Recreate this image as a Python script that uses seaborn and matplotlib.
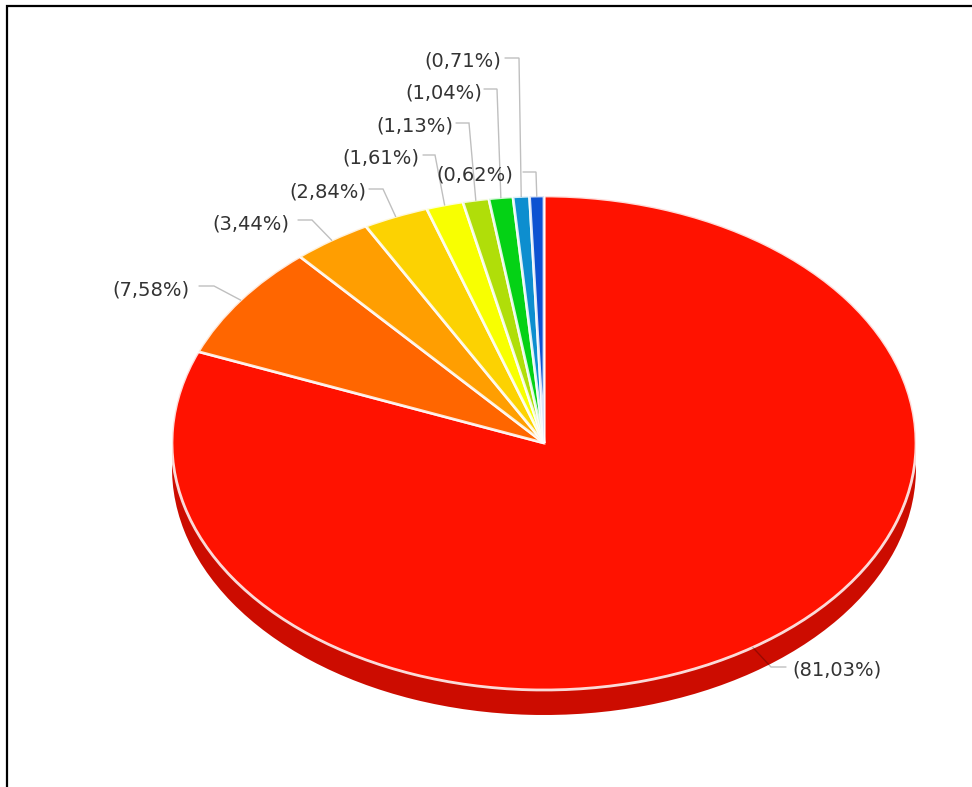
import numpy as np
import seaborn as sns
from matplotlib import pyplot as plt

sns.set_theme(style="white")
plt.rcParams["font.family"] = ["DejaVu Sans"]

shares = [81.03, 7.58, 3.44, 2.84, 1.61, 1.13, 1.04, 0.71, 0.62]
labels = ["(81,03%)", "(7,58%)", "(3,44%)", "(2,84%)", "(1,61%)", "(1,13%)", "(1,04%)", "(0,71%)", "(0,62%)"]
slice_colors = ["#FF1200", "#FF6600", "#FF9E01", "#FCD202", "#F8FF01", "#B0DE09", "#04D215", "#0D8ECF", "#0D52D1"]

WIDTH, HEIGHT = 972, 787
CX, CY = 544, 443
RX, RY = 372, 247
DEPTH = 25

# label centre, then start of the leader and its elbow (pixels)
label_pos = [(837, 670), (151, 290), (251, 224), (328, 192), (381, 158), (415, 126), (444, 93), (463, 61), (475, 175)]
leader_start = [(786, 667), (199, 286), (298, 220), (369, 189), (423, 155), (456, 123), (484, 89), (505, 58), (523, 172)]
leader_elbow = [(771, 667), (214, 286), (312, 220), (383, 189), (435, 155), (469, 123), (497, 89), (519, 58), (536, 172)]

palette = sns.color_palette(slice_colors)

fig = plt.figure(figsize=(WIDTH / 100, HEIGHT / 100), dpi=100)

# pie axes: one data unit is RX pixels across and RY pixels down, so the circle squashes
ax = fig.add_axes([0, 0, 1, 1])
for offset in [DEPTH, DEPTH * 0.5]:
    ax.pie(shares, colors=["#CC0C00"] * len(shares), startangle=90, counterclock=False,
           center=(0, -offset / RY), radius=1, wedgeprops={"linewidth": 0})
wedges, _ = ax.pie(shares, colors=palette, startangle=90, counterclock=False,
                   wedgeprops={"edgecolor": (1, 1, 1, 0.85), "linewidth": 2, "joinstyle": "miter"})
ax.set_aspect("auto")
ax.set_xlim(-CX / RX, (WIDTH - CX) / RX)
ax.set_ylim(-(HEIGHT - CY) / RY, CY / RY)

# overlay in pixels for the labels and the frame
over = fig.add_axes([0, 0, 1, 1], facecolor="none")
over.set_xlim(0, WIDTH)
over.set_ylim(HEIGHT, 0)
over.axis("off")

for wedge, label, pos, start, elbow in zip(wedges, labels, label_pos, leader_start, leader_elbow):
    mid = np.deg2rad((wedge.theta1 + wedge.theta2) / 2)
    rim = (CX + RX * np.cos(mid), CY - RY * np.sin(mid))
    over.plot([start[0], elbow[0], rim[0]], [start[1], elbow[1], rim[1]],
              color="#000000", alpha=0.25, lw=1, solid_joinstyle="miter")
    over.text(pos[0], pos[1], label, ha="center", va="center", fontsize=14, color="#333333")

over.plot([7, 7, WIDTH], [HEIGHT, 6, 6], color="#000000", lw=1.6, solid_joinstyle="miter")

plt.savefig("out.png", dpi=100)
